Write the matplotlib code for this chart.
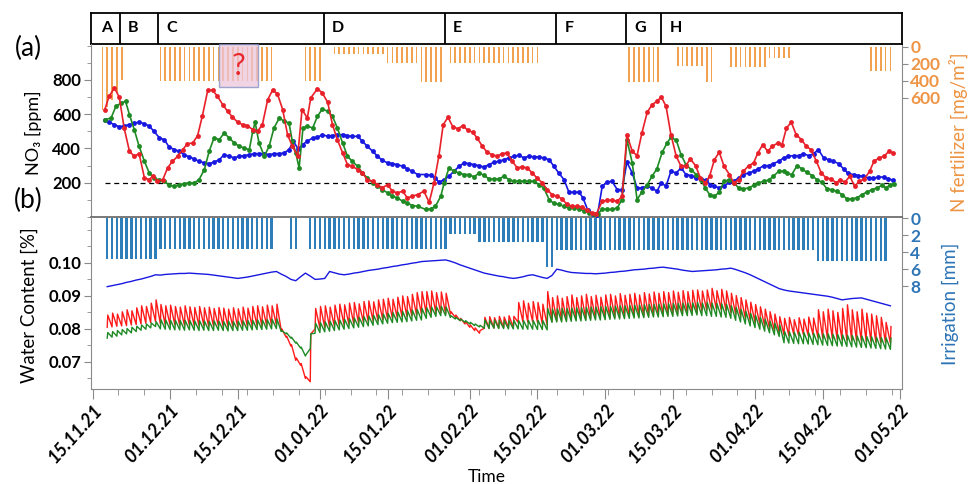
import numpy as np
import pandas as pd
import matplotlib
matplotlib.use("Agg")
import matplotlib.pyplot as plt
import matplotlib.transforms as mtransforms
from matplotlib.patches import Rectangle
from matplotlib.ticker import MultipleLocator, FixedLocator, AutoMinorLocator

plt.rcParams['font.family'] = ['Lato', 'DejaVu Sans']

# ---------------- data ----------------
start_date = "15.11.21"
date_labels = ['15.11.21', '01.12.21', '15.12.21', '01.01.22', '15.01.22', '01.02.22',
               '15.02.22', '01.03.22', '15.03.22', '01.04.22', '15.04.22', '01.05.22']

period_names = ['A', 'B', 'C', 'D', 'E', 'F', 'G', 'H']
period_start = [0, 5.6, 13.5, 47.8, 72.8, 95.9, 110.4, 117.6]

# NO3 [ppm] (days since 15.11.21)
red_days = [2.5, 3.4, 4.5, 5.5, 6.5, 7.6, 8.6, 9.6, 10.7, 11.7, 12.4, 13.4, 14.5, 15.5, 16.5, 17.6, 18.6, 19.6,
            20.7, 21.7, 22.7, 23.8, 24.8, 25.8, 26.9, 27.9, 28.9, 30.0, 31.0, 32.0, 33.1, 34.1, 35.1, 36.2,
            37.2, 38.2, 39.3, 40.3, 41.3, 42.4, 43.3, 44.4, 45.1, 46.5, 47.5, 48.6, 49.6, 50.6, 51.7, 52.7,
            53.7, 54.8, 55.8, 56.8, 57.9, 58.9, 59.9, 61.0, 62.0, 63.0, 64.1, 65.1, 66.1, 67.2,
            68.5, 69.6, 70.6, 71.6, 72.5, 73.5, 74.5, 75.5, 76.6, 77.6, 78.6, 79.5, 80.6, 81.6, 82.6, 83.7,
            84.7, 85.7, 86.8, 87.8, 88.8, 89.9, 90.9, 91.9, 93.0, 94.0, 95.0, 96.1, 97.1, 98.1, 99.2, 100.2,
            101.2, 102.2, 103.2, 104.2, 105.4, 106.4, 107.4, 108.5, 109.5, 110.5, 111.6, 112.6, 113.6, 114.7,
            115.7, 116.7, 117.6, 118.6, 119.6, 120.7, 121.7, 122.7, 123.6, 124.7, 125.7, 126.7, 127.6, 128.6,
            129.6, 130.6, 131.7, 132.6, 133.6, 134.6, 135.7, 136.7, 137.6, 138.6, 139.6, 140.6, 141.7, 142.6,
            143.5, 144.5, 145.5, 146.6, 147.6, 148.6, 149.7, 150.7, 151.7, 152.8, 153.8, 154.6, 155.6, 156.6,
            157.6, 158.6, 159.6, 160.7, 161.6, 162.7, 163.7, 164.7, 165.6]
red_no3 = [627, 705, 753, 700, 520, 384, 355, 370, 228, 218, 238, 209, 218, 287, 325, 355, 393, 428,
           432, 475, 592, 740, 740, 705, 656, 617, 584, 553, 539, 533, 510, 500, 539, 685,
           740, 720, 627, 481, 413, 355, 627, 578, 695, 749, 724, 670, 539, 452, 374, 306,
           296, 277, 257, 218, 209, 189, 170, 189, 150, 141, 150, 112, 121, 131,
           150, 86, 199, 355, 539, 582, 526, 516, 533, 506, 495, 462, 413, 378, 364, 355,
           370, 374, 325, 287, 292, 287, 257, 228, 199, 160, 131, 121, 106, 73, 63, 63,
           59, 40, 25, 20, 92, 98, 98, 92, 121, 481, 384, 358, 491, 611,
           656, 675, 701, 646, 481, 355, 296, 300, 339, 300, 228, 199, 238, 335,
           378, 296, 248, 199, 218, 267, 300, 316, 374, 423, 384, 413, 432, 423,
           520, 553, 481, 452, 413, 393, 325, 257, 228, 222, 199, 218, 203, 238,
           180, 209, 222, 267, 325, 345, 355, 384, 374]

green_days = [2.5, 3.8, 4.8, 5.9, 6.8, 7.6, 8.6, 9.6, 10.7, 11.7, 12.7, 13.8, 14.8, 15.8, 16.9, 17.9, 18.9,
              20.0, 21.0, 22.0, 23.1, 24.1, 25.1, 26.2, 27.2, 28.2, 29.3, 30.3, 31.3, 32.4, 33.1, 33.6, 34.4,
              35.5, 36.5, 37.5, 38.6, 39.6, 40.6, 41.3, 42.0, 42.7, 43.5, 44.4, 45.5, 46.5, 47.5, 48.6, 49.6,
              50.6, 51.7, 52.7, 53.7, 54.8, 55.8, 56.8, 57.9, 58.9, 59.9, 61.0, 62.0, 63.0, 64.1, 65.1, 66.1,
              67.2, 68.9, 69.9, 70.9, 72.0, 72.7, 73.7, 74.7, 75.8, 76.8, 77.8, 78.9, 79.9, 80.9, 82.0, 83.0,
              84.0, 85.1, 86.1, 87.1, 88.2, 89.2, 90.2, 91.3, 92.3, 93.3, 94.4, 95.4, 96.4, 97.5, 98.5, 99.5,
              100.6, 101.6, 102.6, 103.6, 104.6, 105.4, 106.4, 107.4, 108.5, 109.5, 110.5, 111.6, 112.6, 113.6,
              114.7, 115.7, 116.7, 117.8, 118.8, 119.6, 120.7, 121.7, 122.7, 123.8, 124.8, 125.8, 126.7,
              127.6, 128.6, 129.6, 130.6, 131.7, 132.6, 133.6, 134.6, 135.7, 136.7, 137.7, 138.8, 139.8,
              140.8, 141.9, 142.9, 143.7, 144.6, 145.7, 146.7, 147.7, 148.8, 149.8, 150.8, 151.9, 152.9,
              153.9, 155.0, 156.0, 157.0, 158.1, 159.1, 160.1, 161.2, 162.2, 163.2, 164.1, 165.0, 165.8]
green_no3 = [568, 578, 646, 666, 675, 598, 510, 413, 325, 257, 228, 215, 209, 185, 180, 189, 195,
             199, 199, 218, 277, 384, 462, 452, 491, 462, 432, 413, 403, 393, 500, 553, 432,
             355, 413, 520, 578, 559, 549, 442, 374, 287, 520, 530, 520, 588, 631, 617, 588,
             520, 432, 355, 325, 296, 257, 228, 199, 180, 160, 141, 121, 112, 92, 82, 67,
             63, 44, 47, 63, 121, 199, 287, 267, 257, 248, 248, 234, 257, 244, 222, 222,
             222, 238, 218, 209, 209, 209, 209, 209, 189, 170, 102, 79, 73, 63, 53, 53,
             49, 35, 25, 15, 20, 47, 44, 44, 53, 102, 452, 316, 102, 145,
             189, 238, 281, 378, 432, 465, 448, 364, 306, 277, 248, 218, 170,
             131, 121, 145, 209, 218, 199, 170, 164, 170, 184, 199, 209, 215,
             238, 267, 267, 254, 248, 300, 281, 261, 242, 218, 203, 164, 160,
             150, 131, 106, 106, 112, 131, 145, 160, 170, 184, 170, 189, 195]

blue_days = [2.5, 3.4, 4.5, 5.5, 6.5, 7.6, 8.6, 9.6, 10.7, 11.7, 12.7, 13.8, 14.8, 15.8, 16.9, 17.9, 18.9,
             20.0, 21.0, 22.0, 23.1, 24.1, 25.1, 26.2, 27.2, 28.2, 29.3, 30.3, 31.3, 32.4, 33.4, 34.4, 35.5,
             36.5, 37.5, 38.6, 39.6, 40.6, 41.5, 42.5, 43.4, 44.4, 45.5, 46.5, 47.5, 48.6, 49.6, 50.6, 51.7,
             52.7, 53.7, 54.8, 55.8, 56.8, 57.9, 58.9, 59.9, 61.0, 62.0, 63.0, 64.1, 65.1, 66.1, 67.2,
             68.9, 69.9, 70.9, 71.6, 72.7, 73.7, 74.7, 75.8, 76.8, 77.8, 78.9, 79.9, 80.9, 82.0, 83.0, 84.0,
             85.1, 86.1, 87.1, 88.2, 89.2, 90.2, 91.3, 92.3, 93.3, 94.4, 95.4, 96.4, 97.5, 98.5, 99.5, 100.6,
             101.4, 102.4, 103.4, 104.4, 105.4, 106.4, 107.4, 108.5, 109.5, 110.5, 111.6, 112.6, 113.6, 114.7,
             115.7, 116.7, 117.6, 118.6, 119.6, 120.7, 121.7, 122.7, 123.8, 124.8, 125.8, 126.9,
             127.7, 128.6, 129.6, 130.6, 131.7, 132.6, 133.6, 134.6, 135.7, 136.7, 137.7, 138.8, 139.8,
             140.8, 141.9, 142.9, 143.9, 145.0, 146.0, 147.0, 148.1, 149.1, 150.1, 151.2, 152.2, 153.2,
             154.3, 155.3, 156.3, 157.4, 158.4, 159.4, 160.5, 161.5, 162.5, 163.6, 164.6, 165.6]
blue_no3 = [565, 553, 539, 526, 533, 539, 549, 553, 545, 530, 500, 462, 452, 409, 393, 384, 364,
            351, 339, 325, 316, 312, 320, 335, 364, 355, 345, 355, 358, 364, 370, 370, 370,
            364, 370, 370, 374, 393, 442, 397, 423, 442, 462, 465, 481, 471, 475, 481, 481,
            475, 471, 471, 442, 413, 384, 355, 331, 316, 312, 306, 296, 281, 267, 248,
            248, 244, 228, 203, 218, 238, 267, 296, 316, 312, 306, 300, 292, 306, 320, 325,
            335, 345, 355, 360, 345, 355, 351, 351, 345, 335, 296, 257, 218, 145, 145, 145,
            112, 40, 15, 10, 180, 203, 209, 160, 160, 320, 257, 170, 170, 180,
            170, 150, 199, 180, 267, 257, 287, 248, 242, 228, 222, 215,
            189, 180, 170, 180, 203, 209, 228, 248, 257, 267, 281, 300, 300,
            312, 325, 345, 355, 358, 358, 370, 358, 370, 393, 345, 335, 325,
            312, 281, 254, 248, 242, 238, 228, 228, 232, 234, 222, 215]
no3_threshold = 200

# N fertilizer [mg/m2]
fert_days_A = [2, 3, 4, 5, 6]
fert_vals_A = [745, 710, 627, 545, 392]
fert_seg_start = [14, 44, 50, 61, 68, 74, 111, 121, 127, 132, 140, 161]
fert_seg_end = [37, 47, 60, 67, 72, 92, 117, 126, 128, 139, 144, 165]
fert_seg_val = [400, 400, 80, 190, 410, 190, 410, 230, 410, 235, 135, 280]

# Irrigation [mm]
irr_seg_start = [3, 14, 41, 45, 74, 80, 94, 96, 150]
irr_seg_end = [13, 37, 42, 73, 79, 93, 95, 149, 164]
irr_seg_mm = [4.8, 3.7, 3.7, 3.7, 1.9, 2.8, 5.7, 3.8, 5.0]

# Water content (daily trough / peak, in 1e-4 units), days 3..165
wc_first_day = 3
red_lo = [805, 806, 808, 809, 810, 812, 813, 815, 817, 819, 822,
          815, 813, 812, 812, 811, 810, 811, 810, 809, 810, 808, 808, 809, 807, 806, 807, 806, 808, 807, 808,
          810, 809, 810, 811, 812,
          795, 775, 748, 705, 690, 650, 640,
          800, 802, 804, 806, 808, 810, 812, 814, 816, 818, 820, 822, 824, 826, 828, 830, 832, 834, 836, 838,
          840, 842, 845,
          847, 847, 848, 848, 846,
          845, 835, 825, 815, 805, 795, 787,
          802, 802, 803, 803, 804, 804, 805,
          820, 821, 821, 822, 820, 815,
          812,
          822, 825, 826, 827, 828, 829, 830, 830, 831, 832, 832, 833, 834, 835, 835, 836, 837, 838, 838, 839,
          840, 841, 841, 842, 843, 844, 845, 846, 846, 847, 848,
          855, 857, 858, 860, 858, 855,
          850, 844, 838, 832, 826, 820, 814, 808, 801, 794, 787,
          782, 780, 784, 781, 783, 780, 782,
          775, 772, 770, 770, 768, 767, 766, 765, 764, 763, 762, 761, 760, 759, 758, 757]
red_hi = [842, 848, 845, 852, 858, 855, 864, 870, 868, 878, 888,
          874, 870, 872, 868, 866, 870, 867, 865, 868, 864, 866, 862, 865, 863, 860, 864, 861, 866, 863, 868,
          870, 867, 872, 870, 875,
          800, 778, 752, 712, 695, 655, 785,
          862, 868, 870, 866, 872, 875, 873, 878, 880, 876, 883, 885, 882, 888, 890, 893, 890, 896, 900, 898,
          905, 910, 913,
          913, 915, 910, 912, 908,
          852, 842, 832, 822, 812, 803, 795,
          835, 837, 834, 838, 836, 840, 838,
          880, 885, 878, 883, 880, 875,
          913,
          895, 900, 893, 898, 903, 895, 900, 905, 898, 902, 896, 903, 905, 900, 907, 902, 905, 908, 903, 910,
          906, 912, 908, 913, 910, 915, 911, 916, 913, 917, 918,
          915, 918, 923, 916, 920, 915,
          908, 901, 895, 888, 881, 874, 867, 860, 852, 845, 837,
          832, 835, 828, 834, 830, 836, 833,
          858, 852, 860, 855, 850, 862, 873, 858, 852, 860, 848, 845, 840, 835, 820, 807]
green_lo = [772, 775, 778, 782, 785, 788, 792, 796, 799, 803, 807,
            800, 799, 798, 797, 797, 796, 797, 796, 795, 796, 795, 795, 796, 795, 794, 795, 795, 796, 796, 797,
            798, 798, 799, 800, 801,
            792, 785, 772, 757, 742, 718, 740,
            787, 789, 791, 793, 795, 797, 799, 801, 803, 805, 807, 809, 811, 813, 815, 817, 819, 820, 821, 822,
            824, 826, 827,
            832, 835, 838, 840, 840,
            835, 830, 825, 820, 815, 810, 806,
            802, 801, 802, 801, 801, 800, 800, 800, 799, 799, 799, 798, 798,
            797,
            820, 821, 821, 822, 823, 824, 824, 825, 826, 827, 827, 828, 829, 830, 830, 831, 832, 833, 833, 834,
            835, 836, 836, 837, 838, 838, 839, 840, 840, 841, 842,
            840, 840, 838, 838, 836, 835,
            832, 826, 821, 815, 809, 804, 799, 793, 788, 782, 777,
            758, 757, 756, 755, 755, 754, 753, 752, 751, 750, 749, 748, 748, 747, 746, 745, 744, 743, 742, 741,
            740, 739, 738]
green_hi = [789, 792, 795, 798, 801, 805, 808, 812, 815, 818, 822,
            828, 827, 826, 826, 825, 826, 825, 824, 825, 824, 823, 824, 823, 822, 823, 822, 823, 824, 825, 826,
            827, 827, 828, 829, 830,
            795, 788, 775, 760, 745, 722, 785,
            817, 819, 821, 823, 825, 827, 829, 831, 833, 835, 837, 839, 841, 843, 845, 847, 849, 851, 853, 855,
            857, 859, 862,
            864, 866, 867, 868, 866,
            840, 835, 830, 825, 820, 815, 811,
            827, 826, 827, 826, 826, 825, 826, 825, 825, 826, 825, 826, 825,
            862,
            860, 861, 862, 862, 863, 864, 864, 865, 866, 866, 867, 868, 868, 869, 870, 870, 871, 872, 872, 873,
            874, 874, 875, 876, 876, 877, 877, 878, 878, 879, 880,
            878, 880, 878, 877, 876, 874,
            870, 865, 859, 853, 847, 841, 835, 829, 823, 817, 812,
            792, 791, 790, 790, 789, 788, 787, 786, 785, 785, 784, 783, 782, 781, 780, 779, 778, 777, 776, 775,
            774, 773, 772]
blue_wc = [928, 931, 934, 937, 941, 944, 948, 951, 955, 959, 964,
           963, 965, 966, 967, 968, 968, 969,
           968, 967, 966, 965, 963, 961, 959, 957, 955, 953,
           955, 957, 960, 963, 966, 969, 972, 974,
           966, 959, 950, 946, 958, 969, 960,
           950, 951, 953, 974, 970, 966, 964,
           966, 969, 971, 974, 977, 979,
           981, 984, 986, 989, 991, 994, 996, 999, 1001, 1004,
           1005, 1006, 1007, 1008, 1009,
           1005, 1000, 994, 989, 984, 979, 974, 969,
           966, 963, 960, 958, 955, 953,
           955, 958, 962, 964, 960, 956, 953, 962,
           981, 978, 974, 971, 970, 969, 968, 968, 967,
           968, 969, 971, 972, 974, 975, 977, 979,
           980, 981, 983, 984, 986, 987,
           985, 983, 981, 978, 976, 974,
           975, 976, 977, 978, 979, 981, 982, 984,
           980, 975, 970, 964, 957, 950, 943, 936, 929, 922, 918, 915, 913,
           911, 909, 907, 905, 903, 901, 899, 896, 892, 888,
           890, 892, 893, 894, 890, 886, 882, 878, 874, 870]

# ---------------- styling ----------------
C_RED, C_GREEN, C_BLUE = '#E8202A', '#1F8A24', '#1818E0'
C_FERT_BAR, C_FERT_TXT = '#F2A24E', '#EE9444'
C_IRR_BAR, C_IRR_TXT = '#2E7FB9', '#2E75B6'
SPINE = '#8A8A8A'

W_PX, H_PX = 969, 484
fig = plt.figure(figsize=(W_PX / 100, H_PX / 100), dpi=100)

def fx(px):
    return px / W_PX

def fy(py):
    return 1 - py / H_PX

x_left, x_right = 91, 902
y_head_top, y_head_bot, y_mid, y_bot = 12.7, 44, 217, 389
L, Wd = fx(x_left), fx(x_right) - fx(x_left)

ax_h = fig.add_axes([L, fy(y_head_bot), Wd, fy(y_head_top) - fy(y_head_bot)])
ax_a = fig.add_axes([L, fy(y_mid), Wd, fy(y_head_bot) - fy(y_mid)])
ax_b = fig.add_axes([L, fy(y_bot), Wd, fy(y_mid) - fy(y_bot)])
ax_f = ax_a.twinx()
ax_i = ax_b.twinx()

t0 = pd.to_datetime(start_date, format='%d.%m.%y')
tick_days = [(pd.to_datetime(s, format='%d.%m.%y') - t0).days for s in date_labels]
XLIM = (-0.35, 167.4)
for ax in (ax_h, ax_a, ax_b, ax_f, ax_i):
    ax.set_xlim(*XLIM)

# ---- header
ax_h.set_ylim(0, 1)
ax_h.set_xticks([]); ax_h.set_yticks([])
for s in ax_h.spines.values():
    s.set_color('black'); s.set_linewidth(1.3)
period_end = period_start[1:] + [XLIM[1]]
for name, ps, pe in zip(period_names, period_start, period_end):
    if ps > 0:
        ax_h.axvline(ps, color='black', lw=1.3)
    if pe - ps < 7:
        ax_h.text((ps + pe) / 2, 0.5, name, ha='center', va='center', fontsize=11.5, fontweight='bold')
    else:
        ax_h.text(ps + 1.7, 0.5, name, ha='left', va='center', fontsize=11.5, fontweight='bold')

# ---- panel a : NO3
ax_f.set_zorder(ax_a.get_zorder() - 1)
ax_a.set_zorder(ax_f.get_zorder() + 1)
ax_a.patch.set_visible(False)

for d, v, c in ((blue_days, blue_no3, C_BLUE), (green_days, green_no3, C_GREEN), (red_days, red_no3, C_RED)):
    ax_a.plot(d, v, '-o', color=c, lw=1.2, ms=3.5, mew=0, zorder=3)
all_days = red_days + green_days + blue_days
ax_a.hlines(no3_threshold, min(all_days), max(all_days), colors='black', linestyles=(0, (4, 3)), lw=0.9, zorder=2)
ax_a.set_ylim(0, 1010)
ax_a.yaxis.set_major_locator(FixedLocator([200, 400, 600, 800]))
ax_a.yaxis.set_minor_locator(MultipleLocator(100))
ax_a.set_xticks([])
ax_a.tick_params(axis='y', which='major', length=5, color=SPINE, labelsize=12, pad=2)
ax_a.tick_params(axis='y', which='minor', length=3, color=SPINE)
for lbl in ax_a.get_yticklabels():
    lbl.set_fontweight('bold')
ax_a.spines['top'].set_visible(False)
ax_a.spines['right'].set_visible(False)
ax_a.spines['left'].set_color(SPINE)
ax_a.spines['bottom'].set_color('#555555')
ax_a.spines['bottom'].set_linewidth(1.1)

# fertilizer bars (inverted axis)
fert_days = list(fert_days_A)
fert_vals = list(fert_vals_A)
for s, e, v in zip(fert_seg_start, fert_seg_end, fert_seg_val):
    for d in range(s, e + 1):
        fert_days.append(d)
        fert_vals.append(v)
ax_f.bar(fert_days, fert_vals, width=0.35, color=C_FERT_BAR, align='center')
ax_f.set_ylim(2004, -32)
ax_f.yaxis.set_major_locator(FixedLocator([0, 200, 400, 600]))
ax_f.tick_params(axis='y', length=4, color=SPINE, labelcolor=C_FERT_TXT, labelsize=12.5, pad=2)
for lbl in ax_f.get_yticklabels():
    lbl.set_fontweight('bold')
for k in ('top', 'left', 'bottom'):
    ax_f.spines[k].set_visible(False)
ax_f.spines['right'].set_color(SPINE)

# question-mark box
trans = mtransforms.blended_transform_factory(ax_a.transData, ax_a.transAxes)
qbox_x0, qbox_x1 = 26.2, 34.2
ax_a.add_patch(Rectangle((qbox_x0, 0.75), qbox_x1 - qbox_x0, 0.25, transform=trans,
                         facecolor='#ECC6DA', alpha=0.75, edgecolor='#7F8CC0', lw=1.0, zorder=4))
ax_a.text((qbox_x0 + qbox_x1) / 2, 0.873, '?', transform=trans, ha='center', va='center',
          fontsize=22, color='#E8282E', zorder=5)

# ---- panel b : water content
ax_i.set_zorder(ax_b.get_zorder() - 1)
ax_b.set_zorder(ax_i.get_zorder() + 1)
ax_b.patch.set_visible(False)

wc_days = np.arange(wc_first_day, wc_first_day + len(blue_wc))

def sawtooth(lo, hi):
    lo = np.asarray(lo) / 1e4
    hi = np.asarray(hi) / 1e4
    xs = np.column_stack([wc_days, wc_days + 0.12]).ravel()
    ys = np.column_stack([lo, hi]).ravel()
    return xs, ys

ax_b.plot(wc_days, np.asarray(blue_wc) / 1e4, color=C_BLUE, lw=1.0, zorder=3)
xg, yg = sawtooth(green_lo, green_hi)
xr, yr = sawtooth(red_lo, red_hi)
ax_b.plot(xr, yr, color='#FF1A1A', lw=1.0, zorder=3)
ax_b.plot(xg, yg, color=C_GREEN, lw=1.0, zorder=4)
ax_b.set_ylim(0.0618, 0.1139)
ax_b.yaxis.set_major_locator(FixedLocator([0.07, 0.08, 0.09, 0.10]))
ax_b.yaxis.set_minor_locator(MultipleLocator(0.005))
ax_b.yaxis.set_major_formatter(plt.FormatStrFormatter('%.2f'))
ax_b.tick_params(axis='y', which='major', length=5, color=SPINE, labelsize=12, pad=2)
ax_b.tick_params(axis='y', which='minor', length=3, color=SPINE)
for lbl in ax_b.get_yticklabels():
    lbl.set_fontweight('bold')
ax_b.spines['top'].set_visible(False)
ax_b.spines['right'].set_visible(False)
ax_b.spines['left'].set_color(SPINE)
ax_b.spines['bottom'].set_color(SPINE)

ax_b.set_xticks(tick_days)
ax_b.set_xticklabels(date_labels, rotation=48, ha='right', va='top', rotation_mode='anchor',
                     fontsize=13, fontweight='bold', fontstyle='italic')
ax_b.xaxis.set_minor_locator(AutoMinorLocator(3))
ax_b.tick_params(axis='x', which='major', length=7, color=SPINE, pad=2)
ax_b.tick_params(axis='x', which='minor', length=4, color=SPINE)

irr_days, irr_vals = [], []
for s, e, v in zip(irr_seg_start, irr_seg_end, irr_seg_mm):
    for d in range(s, e + 1):
        irr_days.append(d)
        irr_vals.append(v)
ax_i.bar(irr_days, irr_vals, width=0.5, color=C_IRR_BAR, align='center')
ax_i.set_ylim(20.1, -0.12)
ax_i.yaxis.set_major_locator(FixedLocator([0, 2, 4, 6, 8]))
ax_i.tick_params(axis='y', length=4, color=SPINE, labelcolor=C_IRR_TXT, labelsize=12.5, pad=2)
for lbl in ax_i.get_yticklabels():
    lbl.set_fontweight('bold')
for k in ('top', 'left', 'bottom'):
    ax_i.spines[k].set_visible(False)
ax_i.spines['right'].set_color(SPINE)

# ---- labels
fig.text(fx(33), fy(133), 'NO₃ [ppm]', rotation=90, ha='center', va='center', fontsize=13)
fig.text(fx(29), fy(305), 'Water Content [%]', rotation=90, ha='center', va='center', fontsize=13.5)
fig.text(fx(958), fy(132), 'N fertilizer [mg/m²]', rotation=90, ha='center', va='center',
         fontsize=13.5, color=C_FERT_TXT)
fig.text(fx(950), fy(304), 'Irrigation [mm]', rotation=90, ha='center', va='center',
         fontsize=13.5, color=C_IRR_TXT)
fig.text(fx(28), fy(48), '(a)', ha='center', va='center', fontsize=19)
fig.text(fx(28), fy(200), '(b)', ha='center', va='center', fontsize=19)
fig.text(fx(487), fy(477), 'Time', ha='center', va='center', fontsize=12.5)

fig.savefig('out.png', dpi=100)
